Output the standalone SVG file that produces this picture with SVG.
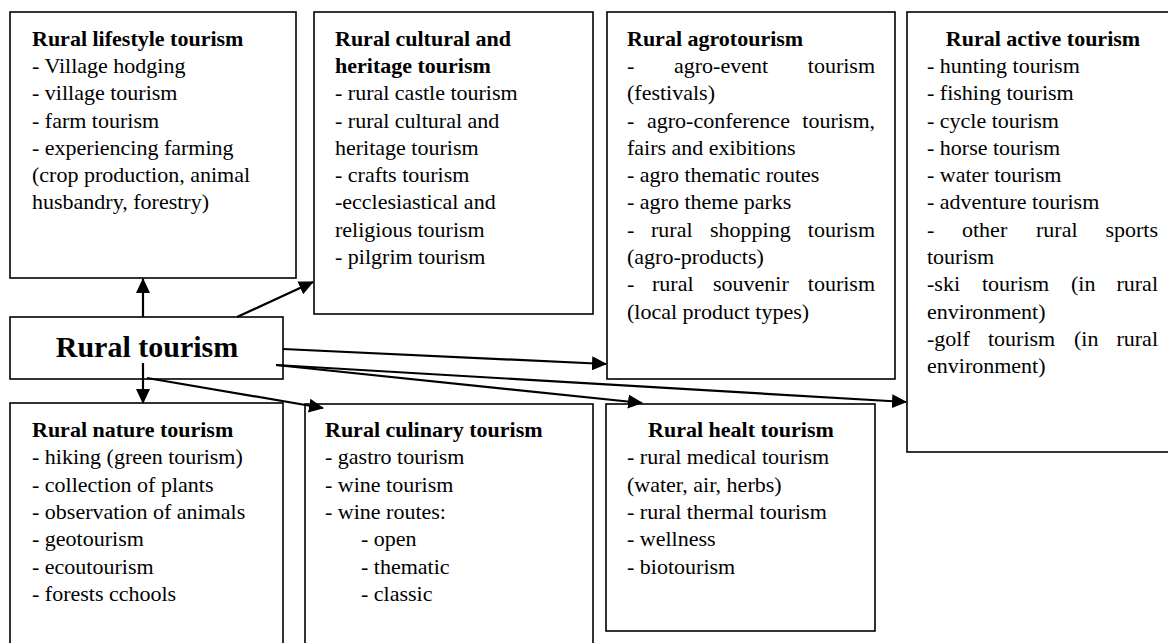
<svg xmlns="http://www.w3.org/2000/svg" width="1168" height="643" viewBox="0 0 1168 643">
<defs>
<style>
.box{fill:#fff;stroke:#000;stroke-width:1.6}
text{font-family:"Liberation Serif","Times New Roman",serif;font-size:22px;fill:#000}
.t{font-weight:bold}
.big{font-weight:bold;font-size:30px}
.c{text-anchor:middle}
.e{text-anchor:end}
.con line{stroke:#000;stroke-width:2.2;marker-end:url(#ah)}
</style>
<marker id="ah" markerUnits="userSpaceOnUse" markerWidth="16" markerHeight="14" refX="14" refY="7" orient="auto">
<path d="M0,0 L15,7 L0,14 z" fill="#000"/>
</marker>
</defs>
<rect width="1168" height="643" fill="#fff"/>

<g id="lifestyle">
<rect class="box" x="10" y="12" width="286" height="266"/>
<text class="t" x="32" y="46">Rural lifestyle tourism</text>
<text x="32" y="73">- Village hodging</text>
<text x="32" y="100">- village tourism</text>
<text x="32" y="128">- farm tourism</text>
<text x="32" y="155">- experiencing farming</text>
<text x="32" y="182">(crop production, animal</text>
<text x="32" y="209">husbandry, forestry)</text>
</g>

<g id="cultural">
<rect class="box" x="314" y="12" width="279" height="302"/>
<text class="t" x="335" y="46">Rural cultural and</text>
<text class="t" x="335" y="73">heritage tourism</text>
<text x="335" y="100">- rural castle tourism</text>
<text x="335" y="128">- rural cultural and</text>
<text x="335" y="155">heritage tourism</text>
<text x="335" y="182">- crafts tourism</text>
<text x="335" y="209">-ecclesiastical and</text>
<text x="335" y="237">religious tourism</text>
<text x="335" y="264">- pilgrim tourism</text>
</g>

<g id="agro">
<rect class="box" x="607" y="12" width="288" height="367"/>
<text class="t" x="627" y="46">Rural agrotourism</text>
<text x="627" y="73">-</text><text x="674" y="73">agro-event</text><text class="e" x="875" y="73">tourism</text>
<text x="627" y="100">(festivals)</text>
<text x="627" y="128">-</text><text x="647" y="128">agro-conference</text><text class="e" x="875" y="128">tourism,</text>
<text x="627" y="155">fairs and exibitions</text>
<text x="627" y="182">- agro thematic routes</text>
<text x="627" y="209">- agro theme parks</text>
<text x="627" y="237">-</text><text x="651" y="237">rural</text><text x="710" y="237">shopping</text><text class="e" x="875" y="237">tourism</text>
<text x="627" y="264">(agro-products)</text>
<text x="627" y="291">-</text><text x="652" y="291">rural</text><text x="713" y="291">souvenir</text><text class="e" x="875" y="291">tourism</text>
<text x="627" y="319">(local product types)</text>
</g>

<g id="active">
<rect class="box" x="907" y="12" width="270" height="440"/>
<text class="t c" x="1043" y="46">Rural active tourism</text>
<text x="927" y="73">- hunting tourism</text>
<text x="927" y="100">- fishing tourism</text>
<text x="927" y="128">- cycle tourism</text>
<text x="927" y="155">- horse tourism</text>
<text x="927" y="182">- water tourism</text>
<text x="927" y="209">- adventure tourism</text>
<text x="927" y="237">-</text><text x="962" y="237">other</text><text x="1036" y="237">rural</text><text class="e" x="1158" y="237">sports</text>
<text x="927" y="264">tourism</text>
<text x="927" y="291">-ski</text><text x="982" y="291">tourism</text><text x="1071" y="291">(in</text><text class="e" x="1158" y="291">rural</text>
<text x="927" y="319">environment)</text>
<text x="927" y="346">-golf</text><text x="988" y="346">tourism</text><text x="1074" y="346">(in</text><text class="e" x="1158" y="346">rural</text>
<text x="927" y="373">environment)</text>
</g>

<g id="rural">
<rect class="box" x="10" y="317" width="273" height="62"/>
<text class="big c" x="147" y="357">Rural tourism</text>
</g>

<g id="nature">
<rect class="box" x="10" y="403" width="273" height="270"/>
<text class="t" x="32" y="437">Rural nature tourism</text>
<text x="32" y="464">- hiking (green tourism)</text>
<text x="32" y="492">- collection of plants</text>
<text x="32" y="519">- observation of animals</text>
<text x="32" y="546">- geotourism</text>
<text x="32" y="574">- ecoutourism</text>
<text x="32" y="601">- forests cchools</text>
</g>

<g id="culinary">
<rect class="box" x="305" y="404" width="288" height="270"/>
<text class="t" x="325" y="437">Rural culinary tourism</text>
<text x="325" y="464">- gastro tourism</text>
<text x="325" y="492">- wine tourism</text>
<text x="325" y="519">- wine routes:</text>
<text x="361" y="546">- open</text>
<text x="361" y="574">- thematic</text>
<text x="361" y="601">- classic</text>
</g>

<g id="health">
<rect class="box" x="606" y="404" width="269" height="227"/>
<text class="t c" x="741" y="437">Rural healt tourism</text>
<text x="627" y="464">- rural medical tourism</text>
<text x="627" y="492">(water, air, herbs)</text>
<text x="627" y="519">- rural thermal tourism</text>
<text x="627" y="546">- wellness</text>
<text x="627" y="574">- biotourism</text>
</g>

<g id="connectors" class="con">
<line x1="143" y1="317" x2="143" y2="279"/>
<line x1="237" y1="317" x2="313" y2="282"/>
<line x1="143" y1="363" x2="143" y2="403"/>
<line x1="147" y1="378" x2="323" y2="408"/>
<line x1="283" y1="349" x2="606" y2="364"/>
<line x1="276" y1="365" x2="642" y2="403"/>
<line x1="276" y1="365" x2="906" y2="402"/>
</g>
</svg>
